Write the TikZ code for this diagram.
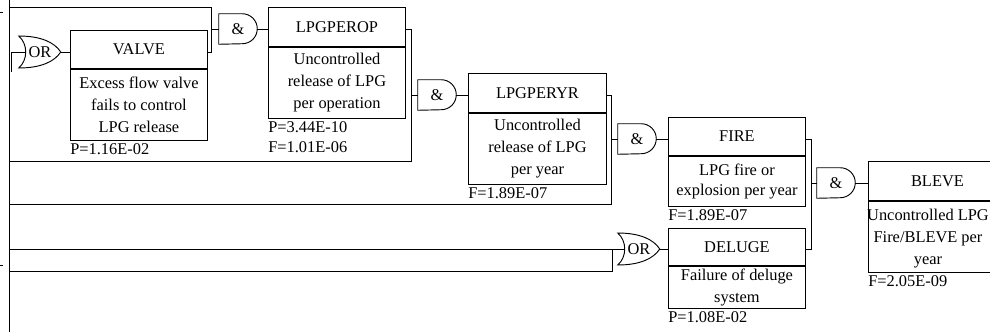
\documentclass[tikz,border=0pt]{standalone}
\usepackage{fontspec}
\setmainfont{Liberation Serif}

% one screen pixel of the drawing grid
\newcommand{\upx}{0.75pt}
\newcommand{\evfont}{\fontsize{12.3pt}{16.5pt}\selectfont}
\newcommand{\lblfont}{\fontsize{12.3pt}{15pt}\selectfont}

% gate outlines drawn round a named gate node
\newcommand{\andbody}[1]{\draw[gateline] (#1.south west) -- (#1.north west) -- ([xshift=-11.25pt]#1.north east) arc[start angle=90,end angle=-90,radius=11.25pt] -- cycle;}
\newcommand{\orbody}[1]{\draw[gateline,shift={(#1.west)}] (0pt,12pt) .. controls (17pt,12pt) and (27pt,7pt) .. (31.5pt,0pt) .. controls (27pt,-7pt) and (17pt,-12pt) .. (0pt,-12pt) .. controls (7pt,-6pt) and (7pt,6pt) .. (0pt,12pt) -- cycle;}

\tikzset{
  wire/.style={line width=0.7pt},
  gateline/.style={line width=0.7pt},
  hdr/.style={draw, line width=0.7pt, minimum width=137*\upx, inner sep=0pt, anchor=north west, font=\evfont},
  body/.style={draw, line width=0.7pt, minimum width=137*\upx, inner sep=1pt, anchor=north, align=center, font=\evfont},
  lbl/.style={anchor=north west, inner xsep=0pt, inner ysep=1.8pt, align=left, font=\lblfont},
  gate/.style={inner sep=0pt, font=\evfont},
  andgate/.style={gate, minimum width=28.5pt, minimum height=22.5pt},
  orgate/.style={gate, minimum width=31.5pt, minimum height=24pt}
}

\begin{document}
\begin{tikzpicture}[x=0.75pt, y=-0.75pt]
\useasboundingbox (0,0) rectangle (990,332);
\clip (0,0) rectangle (990,332);

% event boxes
\node[hdr, minimum height=38*\upx] (valve) at (70,30) {VALVE};
\node[body, minimum height=71*\upx] (valveb) at (valve.south) {Excess flow valve\\fails to control\\LPG release};
\node[lbl] (valvep) at (valveb.south west) {P=1.16E-02};

\node[hdr, minimum height=39*\upx] (lpgperop) at (268,7) {LPGPEROP};
\node[body, minimum height=71*\upx] (lpgperopb) at (lpgperop.south) {Uncontrolled\\release of LPG\\per operation};
\node[lbl] (lpgperopp) at (lpgperopb.south west) {P=3.44E-10\\F=1.01E-06};

\node[hdr, minimum height=39*\upx, minimum width=138*\upx] (lpgperyr) at (468,73) {LPGPERYR};
\node[body, minimum height=71*\upx, minimum width=138*\upx] (lpgperyrb) at (lpgperyr.south) {Uncontrolled\\release of LPG\\per year};
\node[lbl] (lpgperyrp) at (lpgperyrb.south west) {F=1.89E-07};

\node[hdr, minimum height=38*\upx] (fire) at (668,117) {FIRE};
\node[body, minimum height=50*\upx, font=\lblfont] (fireb) at (fire.south) {LPG fire or\\explosion per year};
\node[lbl] (firep) at (fireb.south west) {F=1.89E-07};

\node[hdr, minimum height=37*\upx] (deluge) at (668,228) {DELUGE};
\node[body, minimum height=42*\upx] (delugeb) at (deluge.south) {Failure of deluge\\system};
\node[lbl] (delugep) at (delugeb.south west) {P=1.08E-02};

\node[hdr, minimum height=39*\upx, minimum width=138*\upx] (bleve) at (868,161) {BLEVE};
\node[body, minimum height=71*\upx, minimum width=138*\upx] (bleveb) at (bleve.south) {};
\node[font=\evfont, align=center, inner sep=0pt] (blevet) at (928,239) {Uncontrolled LPG\\Fire/BLEVE per\\year};
\node[lbl] (blevep) at (bleveb.south west) {F=2.05E-09};

% gates
\node[orgate] (or1) at (40,52) {OR};
\node[andgate] (and1) at (238,29) {\&};
\node[andgate] (and2) at (437,95) {\&};
\node[andgate] (and3) at (637,139) {\&};
\node[andgate] (and4) at (836,183) {\&};
\node[orgate] (or2) at (639,249) {OR};
\orbody{or1}
\orbody{or2}
\andbody{and1}
\andbody{and2}
\andbody{and3}
\andbody{and4}

% rail and bus corners
\coordinate (railtop) at (9,0);
\coordinate (railbot) at (9,332);
\coordinate (r1) at (9,7);
\coordinate (r2) at (9,161);
\coordinate (r3) at (9,204);
\coordinate (r4) at (9,249);
\coordinate (r5) at (9,271);
\coordinate (orfeed) at (11,72);
\coordinate (busA) at (211,7);
\coordinate (busB) at (411,161);
\coordinate (busC) at (611,204);
\coordinate (busD) at (811,249);
\coordinate (busE) at (612,271);

% connectors
\draw[wire] (railtop) -- (railbot);
\draw[wire] (0,12) -- (3,12);
\draw[wire] (0,265) -- (3,265);

\draw[wire] (orfeed) -- (orfeed |- or1.west) -- ([xshift=5.25pt]or1.west);
\draw[wire] (or1.east) -- (or1.east -| valve.west);
\draw[wire] (r1) -- (busA) -- (busA |- or1.east) -- (or1.east -| valve.east);
\draw[wire] (busA |- and1.west) -- (and1.west);
\draw[wire] (and1.east) -- (and1.east -| lpgperop.west);

\draw[wire] (r2) -- (busB) -- (busB |- and1.east) -- (and1.east -| lpgperop.east);
\draw[wire] (busB |- and2.west) -- (and2.west);
\draw[wire] (and2.east) -- (and2.east -| lpgperyr.west);

\draw[wire] (r3) -- (busC) -- (busC |- and2.east) -- (and2.east -| lpgperyr.east);
\draw[wire] (busC |- and3.west) -- (and3.west);
\draw[wire] (and3.east) -- (and3.east -| fire.west);

\draw[wire] (r4) -- ([xshift=5.25pt]or2.west);
\draw[wire] (r5) -- (busE) -- (busE |- or2.west);
\draw[wire] (or2.east) -- (or2.east -| deluge.west);

\draw[wire] (or2.east -| deluge.east) -- (busD) -- (busD |- and3.east) -- (and3.east -| fire.east);
\draw[wire] (busD |- and4.west) -- (and4.west);
\draw[wire] (and4.east) -- (and4.east -| bleve.west);
\end{tikzpicture}
\end{document}
